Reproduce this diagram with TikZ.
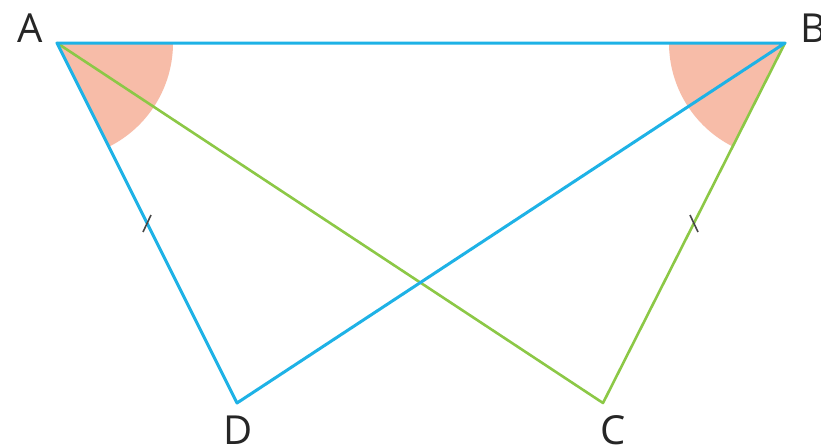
\documentclass[tikz,border=0pt]{standalone}
\usepackage{fontspec}
\setmainfont{Open Sans}
\usetikzlibrary{calc}
\definecolor{lblue}{RGB}{30,178,230}
\definecolor{lgreen}{RGB}{140,200,70}
\definecolor{salmon}{RGB}{247,188,168}
\definecolor{tickgray}{RGB}{70,70,70}
\tikzset{
  blueline/.style={draw=lblue, line width=3pt, line cap=round, line join=round},
  greenline/.style={draw=lgreen, line width=2.6pt, line cap=round, line join=round},
  anglefill/.style={fill=salmon},
  tickmark/.style={draw=tickgray, line width=1.6pt},
  lbl/.style={font=\fontsize{40}{40}\selectfont, text=black!85, inner sep=0pt}
}
\begin{document}
\begin{tikzpicture}[x=1pt,y=1pt]
\useasboundingbox (0,0) rectangle (821,-447);
\fill[white] (0,0) rectangle (821,-447);
\coordinate (A) at (57,-43);
\coordinate (B) at (785,-43);
\coordinate (D) at (237,-403);
\coordinate (C) at (603,-403);
% angle sectors
\fill[anglefill] (A) -- ++(0:116) arc[start angle=0, end angle=-63.43, radius=116] -- cycle;
\fill[anglefill] (B) -- ++(180:116) arc[start angle=180, end angle=243.2, radius=116] -- cycle;
% lines
\draw[greenline] (A) -- (C) -- (B);
\draw[blueline] (B) -- (A) -- (D) -- (B);
% tick marks
\coordinate (mAD) at ($(A)!0.5!(D)$);
\coordinate (mBC) at ($(B)!0.5!(C)$);
\draw[tickmark] ($(mAD)+(4,8)$) -- ($(mAD)+(-4,-9)$);
\draw[tickmark] ($(mBC)+(-4,8)$) -- ($(mBC)+(4,-9)$);
% labels
\node[lbl] (la) at (30,-28) {A};
\node[lbl] (lb) at (813,-28) {B};
\node[lbl] (ld) at (238,-430) {D};
\node[lbl] (lc) at (613,-430) {C};
\end{tikzpicture}
\end{document}
